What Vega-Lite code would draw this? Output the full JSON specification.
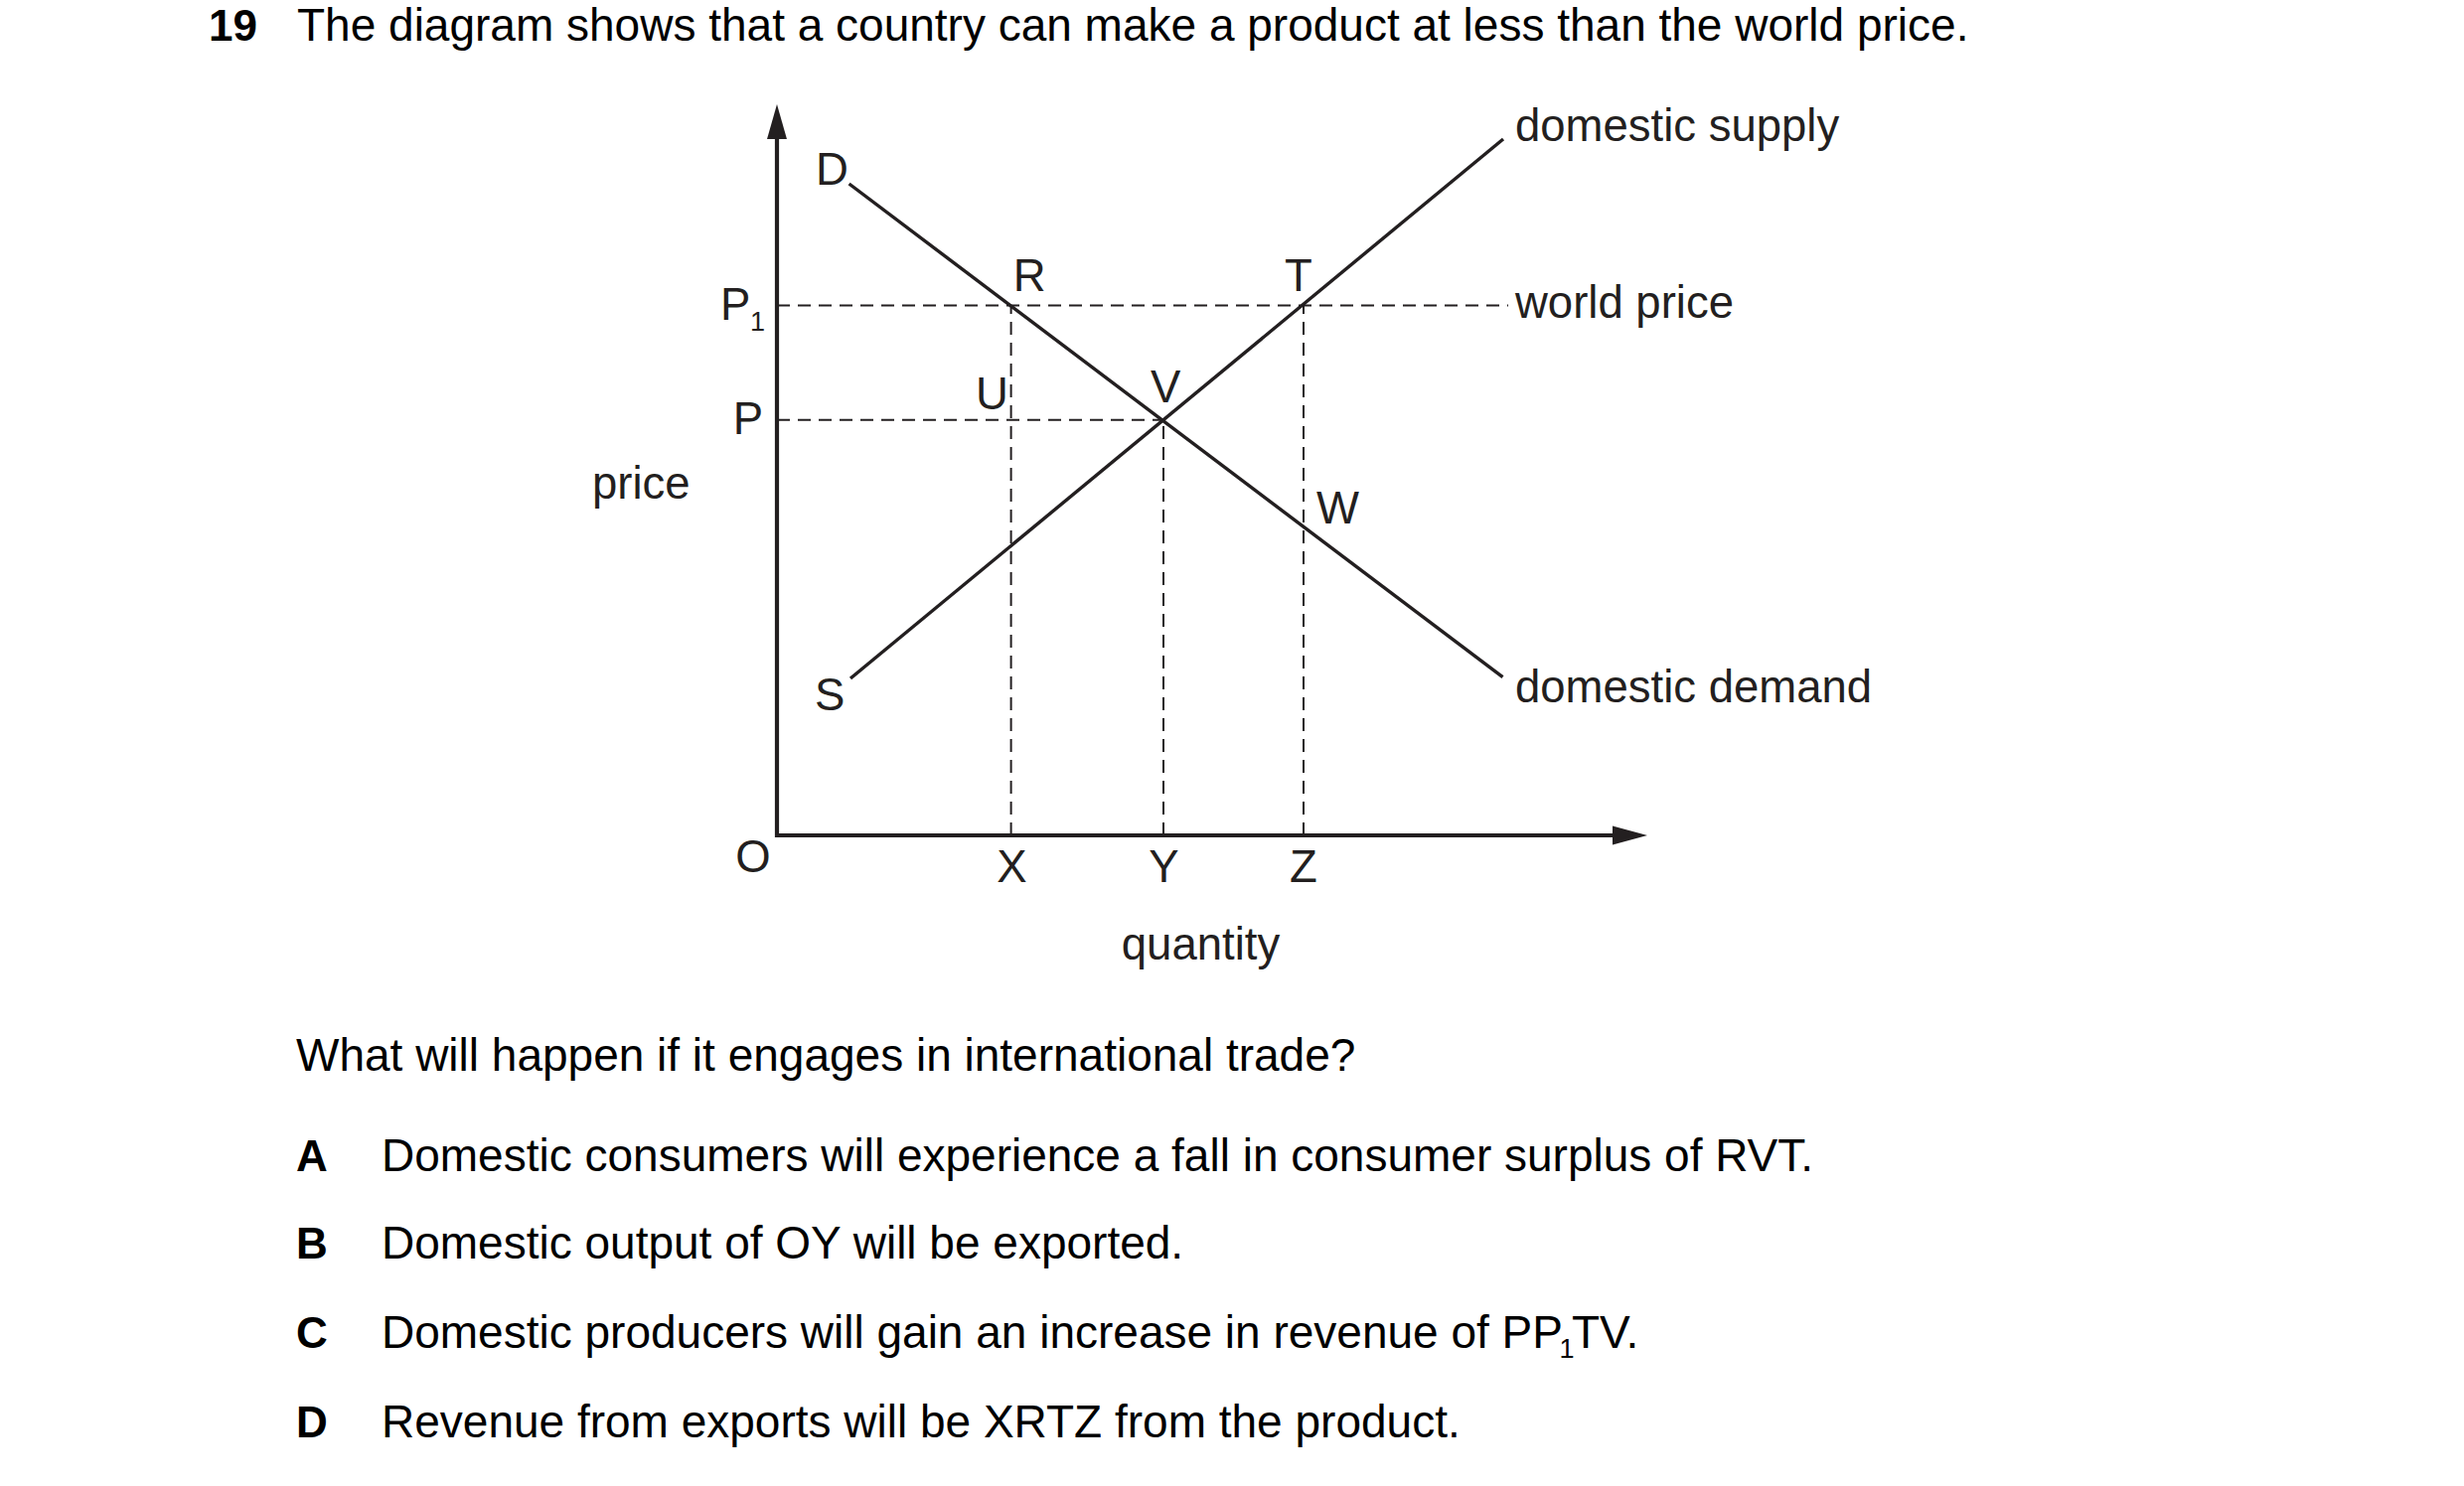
{
  "$schema": "https://vega.github.io/schema/vega-lite/v6.json",
  "width": 2480,
  "height": 1496,
  "autosize": "none",
  "padding": 0,
  "background": "white",
  "config": {"view": {"stroke": null}, "text": {"font": "Liberation Sans"}},
  "datasets": {
    "guides": [
      {"name": "world price", "x": 0, "y": 53.35, "x2": 73.6, "y2": 53.35},
      {"name": "P", "x": 0, "y": 41.83, "x2": 38.9, "y2": 41.83},
      {"name": "X", "x": 23.56, "y": 0, "x2": 23.56, "y2": 53.35},
      {"name": "Y", "x": 38.9, "y": 0, "x2": 38.9, "y2": 41.83},
      {"name": "Z", "x": 53.0, "y": 0, "x2": 53.0, "y2": 53.35}
    ],
    "curves": [
      {"name": "domestic demand", "x": 7.26, "y": 65.6, "x2": 73.05, "y2": 15.93},
      {"name": "domestic supply", "x": 7.4, "y": 15.8, "x2": 73.1, "y2": 70.1}
    ],
    "axes": [
      {"name": "price", "x": 0, "y": -0.2, "x2": 0, "y2": 71},
      {"name": "quantity", "x": -0.2, "y": 0, "x2": 84.6, "y2": 0}
    ],
    "arrowUp": [{"x": 0, "y": 71.85}],
    "arrowRight": [{"x": 85.85, "y": 0}],
    "labelsLeft": [
      {"label": "D", "x": 3.9, "y": 65.5},
      {"label": "R", "x": 23.78, "y": 54.8},
      {"label": "U", "x": 19.99, "y": 42.9},
      {"label": "V", "x": 37.6, "y": 43.6},
      {"label": "T", "x": 51.09, "y": 54.8},
      {"label": "W", "x": 54.3, "y": 31.4},
      {"label": "S", "x": 3.8, "y": 12.6},
      {"label": "price", "x": -18.6, "y": 33.93},
      {"label": "P", "x": -5.7, "y": 51.93},
      {"label": "domestic supply", "x": 74.3, "y": 69.93},
      {"label": "world price", "x": 74.3, "y": 52.1},
      {"label": "domestic demand", "x": 74.3, "y": 13.43}
    ],
    "labelsCenter": [
      {"label": "O", "x": -2.4, "y": -3.7},
      {"label": "X", "x": 23.65, "y": -4.7},
      {"label": "Y", "x": 38.95, "y": -4.7},
      {"label": "Z", "x": 53.0, "y": -4.7},
      {"label": "quantity", "x": 42.65, "y": -12.5}
    ],
    "labelsRight": [
      {"label": "P", "x": -1.4, "y": 40.43}
    ],
    "labelSubs": [
      {"label": "1", "x": -2.7, "y": 50.8}
    ],
    "pageText": [
      {"label": "The diagram shows that a country can make a product at less than the world price.", "x": -48.3, "y": 80.0},
      {"label": "What will happen if it engages in international trade?", "x": -48.4, "y": -23.7},
      {"label": "Domestic consumers will experience a fall in consumer surplus of RVT.", "x": -39.8, "y": -33.75},
      {"label": "Domestic output of OY will be exported.", "x": -39.8, "y": -42.6},
      {"label": "Domestic producers will gain an increase in revenue of PP", "x": -39.8, "y": -51.6},
      {"label": "TV.", "x": 80.0, "y": -51.6},
      {"label": "Revenue from exports will be XRTZ from the product.", "x": -39.8, "y": -60.6}
    ],
    "pageBold": [
      {"label": "19", "x": -57.2, "y": 80.0},
      {"label": "A", "x": -48.4, "y": -33.75},
      {"label": "B", "x": -48.4, "y": -42.6},
      {"label": "C", "x": -48.4, "y": -51.6},
      {"label": "D", "x": -48.4, "y": -60.6}
    ],
    "pageSubs": [
      {"label": "1", "x": 78.75, "y": -52.6}
    ]
  },
  "encoding": {
    "x": {"field": "x", "type": "quantitative", "scale": {"domain": [-78.2, 169.8], "nice": false, "zero": false}, "axis": null},
    "y": {"field": "y", "type": "quantitative", "scale": {"domain": [-65.5, 84.1], "nice": false, "zero": false}, "axis": null}
  },
  "layer": [
    {
      "data": {"name": "guides"},
      "mark": {"type": "rule", "strokeDash": [13, 8], "strokeWidth": 2, "color": "#231f20"},
      "encoding": {"x2": {"field": "x2"}, "y2": {"field": "y2"}}
    },
    {
      "data": {"name": "curves"},
      "mark": {"type": "rule", "strokeWidth": 3.4, "color": "#231f20"},
      "encoding": {"x2": {"field": "x2"}, "y2": {"field": "y2"}}
    },
    {
      "data": {"name": "axes"},
      "mark": {"type": "rule", "strokeWidth": 4.2, "color": "#231f20"},
      "encoding": {"x2": {"field": "x2"}, "y2": {"field": "y2"}}
    },
    {
      "data": {"name": "arrowUp"},
      "mark": {"type": "point", "shape": "M 0 -1 L 0.57 1 L -0.57 1 Z", "size": 1225, "filled": true, "opacity": 1, "color": "#231f20", "strokeWidth": 0}
    },
    {
      "data": {"name": "arrowRight"},
      "mark": {"type": "point", "shape": "M 1 0 L -1 0.54 L -1 -0.54 Z", "size": 1225, "filled": true, "opacity": 1, "color": "#231f20", "strokeWidth": 0}
    },
    {
      "data": {"name": "labelsLeft"},
      "mark": {"type": "text", "align": "left", "baseline": "alphabetic", "fontSize": 45.5, "color": "#231f20"},
      "encoding": {"text": {"field": "label"}}
    },
    {
      "data": {"name": "labelsCenter"},
      "mark": {"type": "text", "align": "center", "baseline": "alphabetic", "fontSize": 45.5, "color": "#231f20"},
      "encoding": {"text": {"field": "label"}}
    },
    {
      "data": {"name": "labelsRight"},
      "mark": {"type": "text", "align": "right", "baseline": "alphabetic", "fontSize": 45.5, "color": "#231f20"},
      "encoding": {"text": {"field": "label"}}
    },
    {
      "data": {"name": "labelSubs"},
      "mark": {"type": "text", "align": "left", "baseline": "alphabetic", "fontSize": 27, "color": "#231f20"},
      "encoding": {"text": {"field": "label"}}
    },
    {
      "data": {"name": "pageText"},
      "mark": {"type": "text", "align": "left", "baseline": "alphabetic", "fontSize": 46, "color": "#000000"},
      "encoding": {"text": {"field": "label"}}
    },
    {
      "data": {"name": "pageBold"},
      "mark": {"type": "text", "align": "left", "baseline": "alphabetic", "fontSize": 44, "fontWeight": "bold", "color": "#000000"},
      "encoding": {"text": {"field": "label"}}
    },
    {
      "data": {"name": "pageSubs"},
      "mark": {"type": "text", "align": "left", "baseline": "alphabetic", "fontSize": 27, "color": "#000000"},
      "encoding": {"text": {"field": "label"}}
    }
  ]
}
